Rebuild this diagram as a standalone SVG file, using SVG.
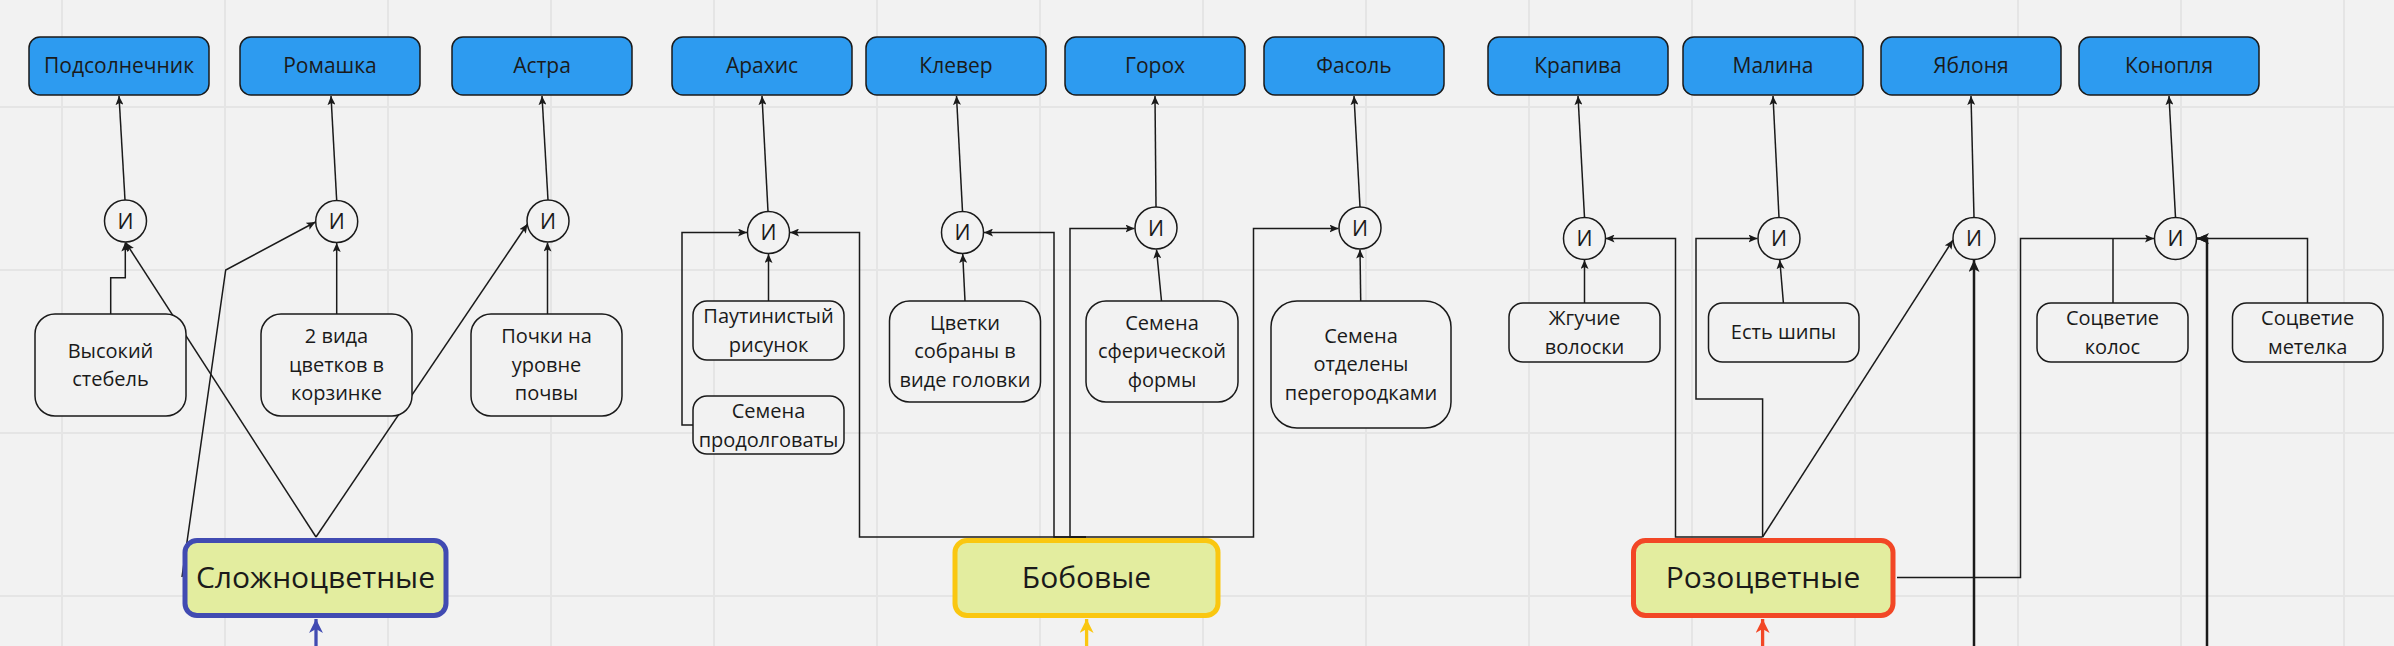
<svg xmlns="http://www.w3.org/2000/svg" width="2394" height="646" viewBox="0 0 2394 646">
<style>
.grid{stroke:#e5e5e5;stroke-width:2}
.tb{fill:#2d9bf0;stroke:#1a1a1a;stroke-width:1.5}
.fb{fill:#f2f2f2;stroke:#1a1a1a;stroke-width:1.5}
.g{fill:#f2f2f2;stroke:#1a1a1a;stroke-width:1.5}
.cat{fill:#e3ed9f;stroke-width:5}
text{font-family:"Open Sans","Noto Sans","DejaVu Sans",sans-serif;fill:#1a1a1a;text-anchor:middle}
.s{font-size:20px}
.m{font-size:21px}
.b{font-size:30px}
.c{fill:none;stroke:#1a1a1a;stroke-width:1.5;marker-end:url(#a)}
.n{fill:none;stroke:#1a1a1a;stroke-width:1.5}
.k{fill:none;stroke:#1a1a1a;stroke-width:2.5;marker-end:url(#ak)}
</style>
<defs>
<marker id="a" markerUnits="userSpaceOnUse" markerWidth="10" markerHeight="8" refX="9" refY="4" orient="auto"><path d="M0,0 L9,4 L0,8 L2,4 z" fill="#1a1a1a"/></marker>
<marker id="ak" markerUnits="userSpaceOnUse" markerWidth="13" markerHeight="11" refX="12" refY="5.5" orient="auto"><path d="M0,0 L12,5.5 L0,11 L3,5.5 z" fill="#1a1a1a"/></marker>
<marker id="ab" markerUnits="userSpaceOnUse" markerWidth="15" markerHeight="15" refX="14" refY="7" orient="auto"><path d="M0,0 L14,7 L0,14 L4,7 z" fill="#414bb2"/></marker>
<marker id="ay" markerUnits="userSpaceOnUse" markerWidth="15" markerHeight="15" refX="14" refY="7" orient="auto"><path d="M0,0 L14,7 L0,14 L4,7 z" fill="#fac710"/></marker>
<marker id="ar" markerUnits="userSpaceOnUse" markerWidth="15" markerHeight="15" refX="14" refY="7" orient="auto"><path d="M0,0 L14,7 L0,14 L4,7 z" fill="#f24726"/></marker>
</defs>
<rect x="0" y="0" width="2394" height="646" fill="#f2f2f2"/>
<g id="grid">
<path class="grid" d="M62,0V646M225,0V646M388,0V646M551,0V646M714,0V646M877,0V646M1040,0V646M1203,0V646M1366,0V646M1529,0V646M1692,0V646M1855,0V646M2018,0V646M2181,0V646M2344,0V646M0,107H2394M0,270H2394M0,433H2394M0,596H2394"/>
</g>

<g id="connectors">
<!-- gates to targets -->
<path class="c" d="M125,200 L119,96"/>
<path class="c" d="M336.7,200.5 L331,96"/>
<path class="c" d="M548,200 L542,96"/>
<path class="c" d="M768,211.5 L762,96"/>
<path class="c" d="M962.5,211.5 L956.5,96"/>
<path class="c" d="M1156,207 L1155,96"/>
<path class="c" d="M1360,207 L1354,96"/>
<path class="c" d="M1584.5,217.5 L1578,96"/>
<path class="c" d="M1779,217.5 L1773,96"/>
<path class="c" d="M1974,217.5 L1971,96"/>
<path class="c" d="M2175.5,217.5 L2169,96"/>
<!-- Сложноцветные -->
<path class="c" d="M110.7,314 V277.7 H125.3 V242.5"/>
<path class="c" d="M336.7,314 V243"/>
<path class="c" d="M547.5,314 V242.5"/>
<path class="c" d="M316,537 L125.7,242.5"/>
<path class="c" d="M316,537 L527.5,224"/>
<path class="c" d="M182,577 L225.7,270 L315.5,222"/>
<path fill="none" stroke="#414bb2" stroke-width="3.3" marker-end="url(#ab)" d="M316,646 V619"/>
<!-- Бобовые -->
<path class="c" d="M768.5,301 V254"/>
<path class="c" d="M693,425 H682 V232.5 H747"/>
<path class="c" d="M965,301 L962.7,254"/>
<path class="c" d="M1161.5,301 L1156.5,249.5"/>
<path class="c" d="M1360.7,301 L1360,249.5"/>
<path class="c" d="M1086,537 H859.5 V232.5 H790"/>
<path class="c" d="M1086,537 H1054 V232.5 H984"/>
<path class="c" d="M1086,537 H1070 V228.5 H1134.5"/>
<path class="c" d="M1086,537 H1253.5 V228.5 H1338.5"/>
<path fill="none" stroke="#fac710" stroke-width="3.3" marker-end="url(#ay)" d="M1086.6,646 V619"/>
<!-- Розоцветные -->
<path class="c" d="M1584.5,303 V260"/>
<path class="c" d="M1783.4,303 L1779.8,260"/>
<path class="c" d="M1762.6,537 H1675.5 V238.5 H1605.5"/>
<path class="c" d="M1762.6,537 V399 H1696 V238.5 H1757.5"/>
<path class="c" d="M1762.6,537 L1953,240"/>
<path class="c" d="M1897,577.5 H2020.5 V238.5 H2154"/>
<path class="n" d="M2113,303 V238.5"/>
<path class="c" d="M2307.5,303 V238.5 H2197"/>
<path class="k" d="M1974,646 V260"/>
<path class="k" d="M2207,646 V238.5 H2197"/>
<path fill="none" stroke="#f24726" stroke-width="3.3" marker-end="url(#ar)" d="M1762.6,646 V619"/>
</g>

<!-- target nodes -->
<g id="t-podsolnechnik"><rect class="tb" x="29" y="37" width="180" height="58" rx="11"/><text class="m" x="119" y="73">Подсолнечник</text></g>
<g id="t-romashka"><rect class="tb" x="240" y="37" width="180" height="58" rx="11"/><text class="m" x="330" y="73">Ромашка</text></g>
<g id="t-astra"><rect class="tb" x="452" y="37" width="180" height="58" rx="11"/><text class="m" x="542" y="73">Астра</text></g>
<g id="t-arakhis"><rect class="tb" x="672" y="37" width="180" height="58" rx="11"/><text class="m" x="762" y="73">Арахис</text></g>
<g id="t-klever"><rect class="tb" x="866" y="37" width="180" height="58" rx="11"/><text class="m" x="956" y="73">Клевер</text></g>
<g id="t-gorokh"><rect class="tb" x="1065" y="37" width="180" height="58" rx="11"/><text class="m" x="1155" y="73">Горох</text></g>
<g id="t-fasol"><rect class="tb" x="1264" y="37" width="180" height="58" rx="11"/><text class="m" x="1354" y="73">Фасоль</text></g>
<g id="t-krapiva"><rect class="tb" x="1488" y="37" width="180" height="58" rx="11"/><text class="m" x="1578" y="73">Крапива</text></g>
<g id="t-malina"><rect class="tb" x="1683" y="37" width="180" height="58" rx="11"/><text class="m" x="1773" y="73">Малина</text></g>
<g id="t-yablonya"><rect class="tb" x="1881" y="37" width="180" height="58" rx="11"/><text class="m" x="1971" y="73">Яблоня</text></g>
<g id="t-konoplya"><rect class="tb" x="2079" y="37" width="180" height="58" rx="11"/><text class="m" x="2169" y="73">Конопля</text></g>

<!-- AND gates -->
<g id="and-1"><circle class="g" cx="125.5" cy="221" r="21"/><text class="m" x="125.5" y="228.5">И</text></g>
<g id="and-2"><circle class="g" cx="336.7" cy="221.5" r="21"/><text class="m" x="336.7" y="229">И</text></g>
<g id="and-3"><circle class="g" cx="548" cy="221" r="21"/><text class="m" x="548" y="228.5">И</text></g>
<g id="and-4"><circle class="g" cx="768.5" cy="232.5" r="21"/><text class="m" x="768.5" y="240">И</text></g>
<g id="and-5"><circle class="g" cx="962.5" cy="232.5" r="21"/><text class="m" x="962.5" y="240">И</text></g>
<g id="and-6"><circle class="g" cx="1156" cy="228" r="21"/><text class="m" x="1156" y="235.5">И</text></g>
<g id="and-7"><circle class="g" cx="1360" cy="228" r="21"/><text class="m" x="1360" y="235.5">И</text></g>
<g id="and-8"><circle class="g" cx="1584.5" cy="238.5" r="21"/><text class="m" x="1584.5" y="246">И</text></g>
<g id="and-9"><circle class="g" cx="1779" cy="238.5" r="21"/><text class="m" x="1779" y="246">И</text></g>
<g id="and-10"><circle class="g" cx="1974" cy="238.5" r="21"/><text class="m" x="1974" y="246">И</text></g>
<g id="and-11"><circle class="g" cx="2175.5" cy="238.5" r="21"/><text class="m" x="2175.5" y="246">И</text></g>

<!-- feature nodes -->
<g id="f-vysokiy"><rect class="fb" x="35" y="314" width="151" height="102" rx="20"/><text class="s" x="110.5" y="357.5">Высокий</text><text class="s" x="110.5" y="386">стебель</text></g>
<g id="f-2vida"><rect class="fb" x="261" y="314" width="151" height="102" rx="20"/><text class="s" x="336.5" y="343">2 вида</text><text class="s" x="336.5" y="371.5">цветков в</text><text class="s" x="336.5" y="400">корзинке</text></g>
<g id="f-pochki"><rect class="fb" x="471" y="314" width="151" height="102" rx="20"/><text class="s" x="546.5" y="343">Почки на</text><text class="s" x="546.5" y="371.5">уровне</text><text class="s" x="546.5" y="400">почвы</text></g>
<g id="f-pautin"><rect class="fb" x="693" y="301" width="151" height="59" rx="14"/><text class="s" x="768.5" y="323">Паутинистый</text><text class="s" x="768.5" y="352">рисунок</text></g>
<g id="f-prodolg"><rect class="fb" x="693" y="396" width="151" height="58" rx="14"/><text class="s" x="768.5" y="418">Семена</text><text class="s" x="768.5" y="446.5">продолговаты</text></g>
<g id="f-tsvetki"><rect class="fb" x="889.5" y="301" width="151" height="101" rx="20"/><text class="s" x="965" y="329.5">Цветки</text><text class="s" x="965" y="358">собраны в</text><text class="s" x="965" y="386.5">виде головки</text></g>
<g id="f-sfer"><rect class="fb" x="1086" y="301" width="152" height="101" rx="20"/><text class="s" x="1162" y="329.5">Семена</text><text class="s" x="1162" y="358">сферической</text><text class="s" x="1162" y="386.5">формы</text></g>
<g id="f-otdel"><rect class="fb" x="1271" y="301" width="180" height="127" rx="26"/><text class="s" x="1361" y="342.5">Семена</text><text class="s" x="1361" y="371">отделены</text><text class="s" x="1361" y="399.5">перегородками</text></g>
<g id="f-zhguchie"><rect class="fb" x="1509" y="303" width="151" height="59" rx="14"/><text class="s" x="1584.5" y="325">Жгучие</text><text class="s" x="1584.5" y="354">волоски</text></g>
<g id="f-shipy"><rect class="fb" x="1708.5" y="303" width="150.5" height="59" rx="14"/><text class="s" x="1783.5" y="339">Есть шипы</text></g>
<g id="f-kolos"><rect class="fb" x="2037" y="303" width="151" height="59" rx="14"/><text class="s" x="2112.5" y="325">Соцветие</text><text class="s" x="2112.5" y="354">колос</text></g>
<g id="f-metelka"><rect class="fb" x="2232.5" y="303" width="150.5" height="59" rx="14"/><text class="s" x="2307.7" y="325">Соцветие</text><text class="s" x="2307.7" y="354">метелка</text></g>

<!-- category nodes -->
<g id="cat-slozh"><rect class="cat" stroke="#414bb2" x="185" y="540.5" width="261" height="75" rx="12"/><text class="b" x="315.5" y="588">Сложноцветные</text></g>
<g id="cat-bob"><rect class="cat" stroke="#fac710" x="955" y="540.5" width="263" height="75" rx="12"/><text class="b" x="1086.5" y="588">Бобовые</text></g>
<g id="cat-roz"><rect class="cat" stroke="#f24726" x="1633.5" y="540.5" width="259.5" height="75" rx="12"/><text class="b" x="1763" y="588">Розоцветные</text></g>
</svg>
